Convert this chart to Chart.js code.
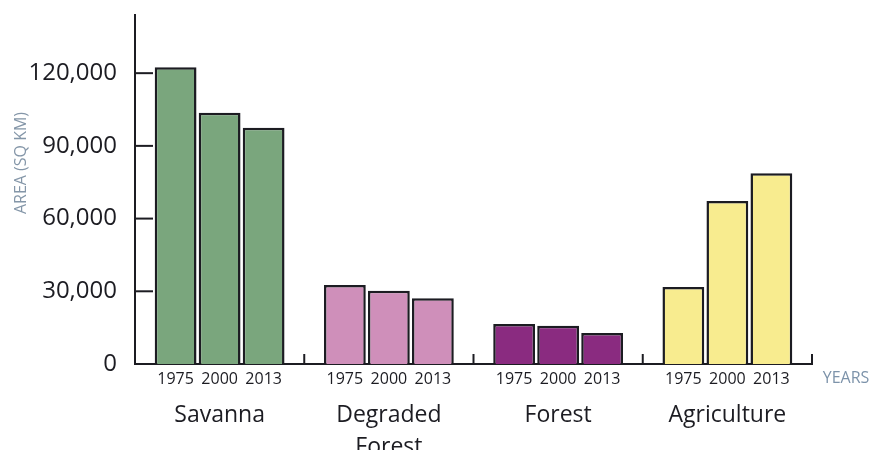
<!DOCTYPE html>
<html>
<head>
<meta charset="utf-8">
<script src="https://cdn.jsdelivr.net/npm/chart.js@4/dist/chart.umd.min.js"></script>
<style>
  html, body { margin: 0; padding: 0; background: #fff; }
  #wrap { width: 871px; height: 450px; }
</style>
</head>
<body>
<div id="wrap"><canvas id="landChart"></canvas></div>
<script>
// Land cover area by class (sq km)
const categories = ["Savanna", ["Degraded", "Forest"], "Forest", "Agriculture"];
const years = ["1975", "2000", "2013"];

const area1975 = [122400, 32600, 16500, 31800];
const area2000 = [103700, 30200, 15800, 67300];
const area2013 = [97500, 27100, 12800, 78700];

const yTicks = [0, 30000, 60000, 90000, 120000];

const classColors = ["#7aa67d", "#cf8fba", "#8a2b80", "#f8ec8f"];
const ink = "#1c1c22";
const fontFamily = "'Open Sans', 'Noto Sans', sans-serif";

// draws the year under each bar, the inside tick marks and the loose titles
const extrasPlugin = {
  id: 'extras',
  afterDatasetsDraw(chart) {
    const { ctx, chartArea, scales } = chart;
    const x = scales.x, y = scales.y;
    ctx.save();
    ctx.strokeStyle = ink;
    ctx.lineWidth = 2;

    // y ticks pointing into the plot
    yTicks.forEach(v => {
      const py = y.getPixelForValue(v);
      ctx.beginPath();
      ctx.moveTo(chartArea.left, py);
      ctx.lineTo(chartArea.left + 18, py);
      ctx.stroke();
    });

    // x ticks at group boundaries, pointing up
    const step = x.width / categories.length;
    for (let i = 1; i <= categories.length; i++) {
      const px = x.left + step * i;
      ctx.beginPath();
      ctx.moveTo(px, chartArea.bottom);
      ctx.lineTo(px, chartArea.bottom - 10);
      ctx.stroke();
    }

    // year labels under bars
    ctx.fillStyle = ink;
    ctx.font = "16px " + fontFamily;
    ctx.textAlign = 'center';
    ctx.textBaseline = 'middle';
    chart.data.datasets.forEach((ds, di) => {
      chart.getDatasetMeta(di).data.forEach(bar => {
        ctx.fillText(ds.label, bar.x, chartArea.bottom + 15);
      });
    });

    // "YEARS" at the end of the axis
    ctx.fillStyle = "#7d93aa";
    ctx.font = "16px " + fontFamily;
    ctx.fillText("YEARS", chartArea.right + 34, chartArea.bottom + 14);

    // y axis title
    ctx.translate(21, 163);
    ctx.rotate(-Math.PI / 2);
    ctx.fillStyle = "#8496a8";
    ctx.font = "16px " + fontFamily;
    ctx.fillText("AREA (SQ KM)", 0, 0);
    ctx.restore();
  }
};

const ctx = document.getElementById('landChart').getContext('2d');
const landChart = new Chart(ctx, {
  type: 'bar',
  data: {
    labels: categories,
    datasets: [
      { label: years[0], data: area1975 },
      { label: years[1], data: area2000 },
      { label: years[2], data: area2013 }
    ].map(ds => Object.assign(ds, {
      backgroundColor: classColors,
      borderColor: ink,
      borderWidth: 2.5,
      categoryPercentage: 0.78,
      barPercentage: 0.95
    }))
  },
  options: {
    responsive: true,
    maintainAspectRatio: false,
    animation: false,
    layout: { autoPadding: false, padding: { top: 15, right: 59, left: 0, bottom: 0 } },
    plugins: {
      legend: { display: false },
      tooltip: { enabled: false }
    },
    scales: {
      x: {
        grid: { display: false },
        border: { display: true, color: ink, width: 2 },
        ticks: {
          color: ink,
          padding: 27,
          font: { family: fontFamily, size: 23, lineHeight: 1.4 }
        },
        afterFit(scale) { scale.height = 86; scale.paddingLeft = 0; scale.paddingRight = 0; }
      },
      y: {
        min: 0,
        max: 144000,
        grid: { display: false },
        border: { display: true, color: ink, width: 2 },
        afterBuildTicks(scale) { scale.ticks = yTicks.map(v => ({ value: v })); },
        afterFit(scale) { scale.width = 135; scale.paddingTop = 0; scale.paddingBottom = 0; },
        ticks: {
          color: ink,
          padding: 10,
          font: { family: fontFamily, size: 24 },
          callback: v => v.toLocaleString('en-US')
        }
      }
    }
  },
  plugins: [extrasPlugin]
});
</script>
</body>
</html>
